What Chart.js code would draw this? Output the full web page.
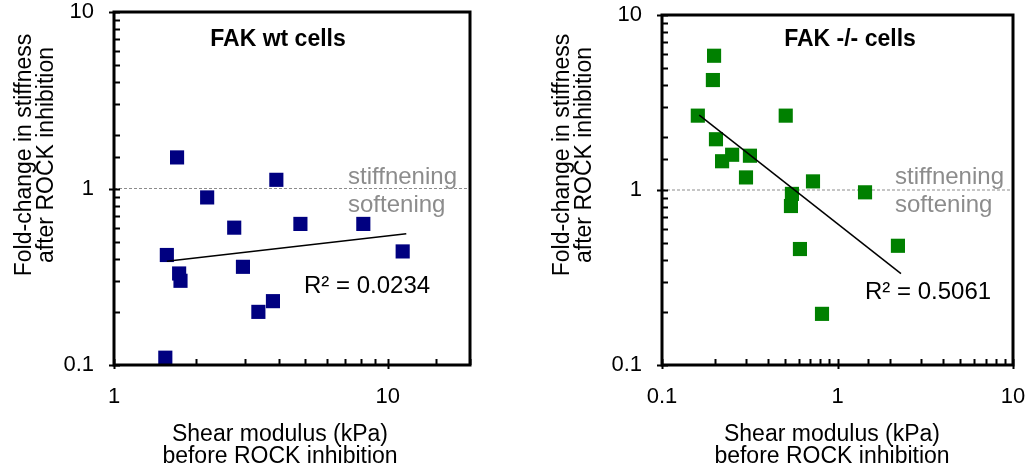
<!DOCTYPE html>
<html>
<head>
<meta charset="utf-8">
<script src="https://cdn.jsdelivr.net/npm/chart.js@4"></script>
<style>
  body { margin: 0; background: #fff; }
  #wrap { position: relative; width: 1029px; height: 473px; }
  canvas { position: absolute; top: 0; }
</style>
</head>
<body>
<div id="wrap">
  <canvas id="wt" width="515" height="473" style="left:0"></canvas>
  <canvas id="ko" width="514" height="473" style="left:515px"></canvas>
</div>
<script>
// FAK wt cells
const wtShear = [1.70, 3.92, 2.19, 2.75, 4.80, 8.15, 11.35, 1.56, 2.96, 1.73, 1.75, 3.81, 3.37, 1.54];
const wtFold = [1.50, 1.12, 0.89, 0.60, 0.63, 0.63, 0.44, 0.42, 0.36, 0.33, 0.30, 0.23, 0.20, 0.11];
const wtTrendX = [1.56, 11.7];
const wtTrendY = [0.387, 0.554];

// FAK -/- cells
const koShear = [0.198, 0.195, 0.160, 0.507, 0.203, 0.251, 0.317, 0.220, 0.301, 0.725, 1.435, 0.550, 0.543, 0.611, 2.21, 0.816];
const koFold = [5.85, 4.25, 2.66, 2.66, 1.95, 1.59, 1.57, 1.46, 1.18, 1.12, 0.97, 0.95, 0.81, 0.46, 0.48, 0.196];
const koTrendX = [0.163, 2.30];
const koTrendY = [2.68, 0.333];

const wtXRange = [1, 20];
const koXRange = [0.1, 10];
const yRange = [0.1, 10];

const FONT = "'Liberation Sans', Arial, sans-serif";

const isPow10 = (v) => {
  const l = Math.log10(v);
  return Math.abs(l - Math.round(l)) < 1e-6;
};

const toPoints = (xs, ys) => xs.map((x, i) => ({ x: x, y: ys[i] }));

const decorations = {
  id: "decorations",
  afterDatasetsDraw(chart, args, opts) {
    const ctx = chart.ctx;
    const a = chart.chartArea;
    const xs = chart.scales.x;
    const ys = chart.scales.y;
    ctx.save();
    // inward tick marks
    ctx.strokeStyle = "#000";
    ctx.lineWidth = 2;
    ctx.beginPath();
    ys.ticks.forEach((t) => {
      const py = Math.round(ys.getPixelForValue(t.value)) + 0.5;
      const major = isPow10(t.value);
      ctx.moveTo(a.left - (major ? 5 : 0), py);
      ctx.lineTo(a.left + 6, py);
    });
    xs.ticks.forEach((t) => {
      const px = Math.round(xs.getPixelForValue(t.value)) + 0.5;
      const major = isPow10(t.value);
      ctx.moveTo(px, a.bottom + (major ? 4 : 0));
      ctx.lineTo(px, a.bottom - 6);
    });
    ctx.stroke();
    // frame
    ctx.lineWidth = 3;
    ctx.strokeRect(a.left, a.top, a.right - a.left, a.bottom - a.top);

    // texts
    ctx.fillStyle = "#000";
    ctx.textBaseline = "alphabetic";
    ctx.font = "bold 23px " + FONT;
    ctx.textAlign = "center";
    ctx.fillText(opts.title, opts.titleX, 46);

    ctx.font = "24px " + FONT;
    ctx.textAlign = "left";
    ctx.fillText(opts.r2, opts.r2X, opts.r2Y);

    ctx.fillStyle = "#8c8c8c";
    ctx.fillText("stiffnening", opts.labelX, 184);
    ctx.fillText("softening", opts.labelX, 212);

    ctx.fillStyle = "#000";
    ctx.font = "23px " + FONT;
    ctx.textAlign = "center";
    ctx.fillText("Shear modulus (kPa)", opts.xTitleX, 441);
    ctx.fillText("before ROCK inhibition", opts.xTitleX, 463);

    ctx.translate(opts.yTitleX, 155);
    ctx.rotate(-Math.PI / 2);
    ctx.fillText("Fold-change in stiffness", 0, 0);
    ctx.fillText("after ROCK inhibition", 0, 22);
    ctx.restore();
  },
};

const makeChart = (id, c) => {
  new Chart(document.getElementById(id), {
    type: "scatter",
    data: {
      datasets: [
        {
          type: "line",
          data: toPoints(c.trendX, c.trendY),
          borderColor: "#000",
          borderWidth: 1.5,
          pointRadius: 0,
          order: 0,
        },
        {
          data: toPoints(c.xs, c.ys),
          pointStyle: "rect",
          pointRadius: 10,
          backgroundColor: c.color,
          borderWidth: 0,
          order: 1,
        },
        {
          type: "line",
          data: toPoints(c.xRange, [1, 1]),
          borderColor: "#8c8c8c",
          borderWidth: 1,
          borderDash: [3, 2],
          pointRadius: 0,
          order: 2,
        },
      ],
    },
    options: {
      responsive: false,
      animation: false,
      devicePixelRatio: 1,
      layout: { padding: { top: c.top, right: c.right, left: 0, bottom: 0 } },
      plugins: {
        legend: { display: false },
        tooltip: { enabled: false },
        decorations: c.text,
      },
      scales: {
        x: {
          type: "logarithmic",
          min: c.xRange[0],
          max: c.xRange[1],
          grid: { display: false, drawTicks: false },
          border: { display: false },
          afterFit: (s) => {
            s.height = 108;
            s.paddingLeft = 0;
            s.paddingRight = 0;
          },
          ticks: {
            autoSkip: false,
            maxRotation: 0,
            padding: 19,
            color: "#000",
            font: { family: FONT, size: 22 },
            callback: (v) => (isPow10(v) ? String(v) : ""),
          },
        },
        y: {
          type: "logarithmic",
          min: yRange[0],
          max: yRange[1],
          grid: { display: false, drawTicks: false },
          border: { display: false },
          afterFit: (s) => {
            s.width = c.yWidth;
            s.paddingTop = 0;
            s.paddingBottom = 0;
          },
          ticks: {
            autoSkip: false,
            padding: 20,
            color: "#000",
            font: { family: FONT, size: 22 },
            callback: (v) => (isPow10(v) ? String(v) : ""),
          },
        },
      },
    },
    plugins: [decorations],
  });
};

makeChart("wt", {
  xs: wtShear, ys: wtFold, trendX: wtTrendX, trendY: wtTrendY,
  xRange: wtXRange, color: "#000080",
  top: 12, right: 45, yWidth: 114,
  text: { title: "FAK wt cells", titleX: 278, r2: "R\u00b2 = 0.0234", r2X: 304, r2Y: 293,
          labelX: 348, xTitleX: 280, yTitleX: 31 },
});

makeChart("ko", {
  xs: koShear, ys: koFold, trendX: koTrendX, trendY: koTrendY,
  xRange: koXRange, color: "#008000",
  top: 15, right: 16, yWidth: 147,
  text: { title: "FAK -/- cells", titleX: 335, r2: "R\u00b2 = 0.5061", r2X: 350, r2Y: 299,
          labelX: 380, xTitleX: 317, yTitleX: 54 },
});
</script>
</body>
</html>
